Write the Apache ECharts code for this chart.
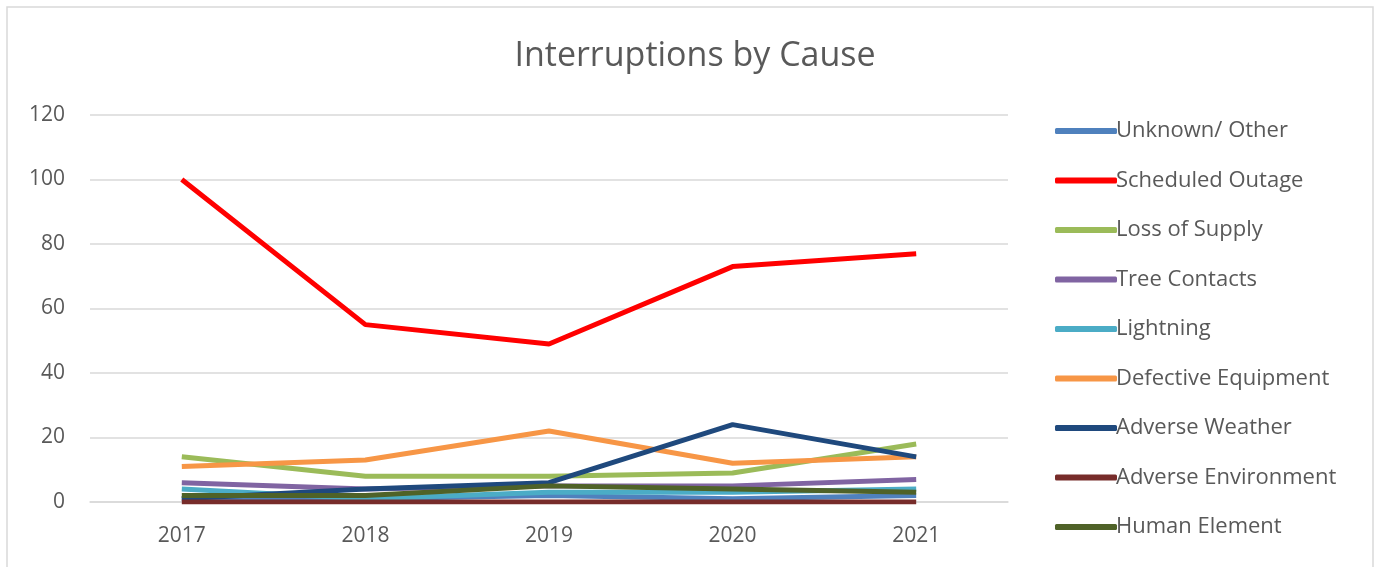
<!DOCTYPE html>
<html>
<head>
<meta charset="utf-8">
<script src="https://cdn.jsdelivr.net/npm/echarts@6/dist/echarts.min.js"></script>
<style>
  html, body { margin: 0; padding: 0; background: #fff; }
  #chart { width: 1384px; height: 567px; }
</style>
</head>
<body>
<div id="chart"></div>
<script>
var years = ['2017', '2018', '2019', '2020', '2021'];

var unknownOther = [1, 1, 2, 1, 2];
var scheduledOutage = [100, 55, 49, 73, 77];
var lossOfSupply = [14, 8, 8, 9, 18];
var treeContacts = [6, 4, 5, 5, 7];
var lightning = [4, 1, 3, 3, 4];
var defectiveEquipment = [11, 13, 22, 12, 14];
var adverseWeather = [1, 4, 6, 24, 14];
var adverseEnvironment = [0, 0, 0, 0, 0];
var humanElement = [2, 2, 5, 4, 3];

var seriesList = [
    { name: 'Unknown/ Other', data: unknownOther, color: '#4f81bd' },
    { name: 'Scheduled Outage', data: scheduledOutage, color: '#ff0000' },
    { name: 'Loss of Supply', data: lossOfSupply, color: '#9bbb59' },
    { name: 'Tree Contacts', data: treeContacts, color: '#8064a2' },
    { name: 'Lightning', data: lightning, color: '#4bacc6' },
    { name: 'Defective Equipment', data: defectiveEquipment, color: '#f79646' },
    { name: 'Adverse Weather', data: adverseWeather, color: '#1f497d' },
    { name: 'Adverse Environment', data: adverseEnvironment, color: '#772c2a' },
    { name: 'Human Element', data: humanElement, color: '#4f6228' }
];

var dom = document.getElementById('chart');
var myChart = echarts.init(dom);

var option = {
    animation: false,
    textStyle: { fontFamily: 'Open Sans' },
    graphic: [{
        type: 'rect',
        shape: { x: 7, y: 7, width: 1366, height: 570 },
        style: { fill: 'none', stroke: '#d9d9d9', lineWidth: 1.5 },
        silent: true
    }],
    title: {
        text: 'Interruptions by Cause',
        left: 690,
        textAlign: 'center',
        top: 34,
        textStyle: { color: '#595959', fontSize: 34, fontWeight: 'normal', fontFamily: 'Open Sans' }
    },
    legend: {
        orient: 'vertical',
        left: 1050,
        top: 113,
        itemWidth: 62,
        itemHeight: 6,
        itemGap: 23.5,
        icon: 'roundRect',
        textStyle: { color: '#595959', fontSize: 22, lineHeight: 26, padding: [0, 0, 0, -6] },
        data: seriesList.map(function (s) { return s.name; })
    },
    grid: { left: 90, right: 376, top: 115, bottom: 65 },
    xAxis: {
        type: 'category',
        data: years,
        axisTick: { show: false },
        axisLine: { lineStyle: { color: '#d9d9d9', width: 1.5 } },
        axisLabel: { color: '#595959', fontSize: 21, margin: 24 }
    },
    yAxis: {
        type: 'value',
        min: 0,
        max: 120,
        interval: 20,
        axisLabel: { color: '#595959', fontSize: 21, margin: 25 },
        splitLine: { lineStyle: { color: '#d9d9d9', width: 1.5 } }
    },
    series: seriesList.map(function (s) {
        return {
            name: s.name,
            type: 'line',
            data: s.data,
            symbol: 'none',
            color: s.color,
            lineStyle: { width: 5, color: s.color }
        };
    })
};

myChart.setOption(option);
</script>
</body>
</html>
